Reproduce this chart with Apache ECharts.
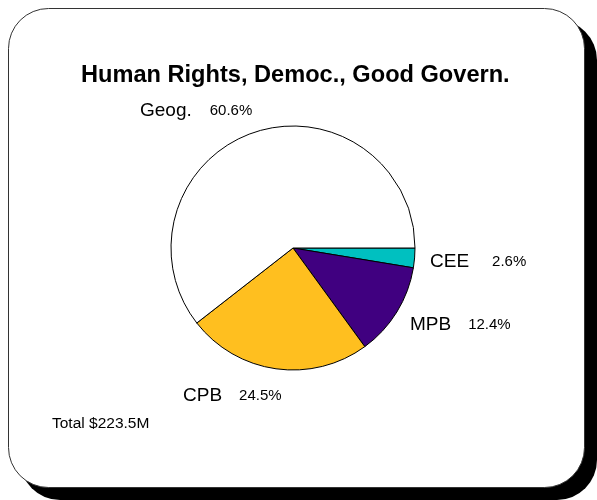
<!DOCTYPE html>
<html>
<head>
<meta charset="utf-8">
<script src="https://cdn.jsdelivr.net/npm/echarts@6/dist/echarts.min.js"></script>
<style>
  html, body { margin: 0; padding: 0; background: #ffffff; }
  #chart { width: 597px; height: 500px; }
</style>
</head>
<body>
<div id="chart"></div>
<script>
// Funding shares by program area
const titleText = 'Human Rights, Democ., Good Govern.';
const categories = ['CEE', 'MPB', 'CPB', 'Geog.'];
const shares = [2.6, 12.4, 24.5, 60.6];
const totalText = 'Total $223.5M';

const sliceColors = ['#00c0c0', '#400080', '#ffbf1f', '#ffffff'];
// label anchor (left edge, vertical middle) and name-to-percent gap for each slice
const labelAnchors = [[430, 262], [410, 325], [183, 396], [140, 111]];
const labelGaps = [23, 17, 17, 18];

const FONT = 'Liberation Sans, Arial, sans-serif';
const rich = {
  n: { fontFamily: FONT, fontSize: 19, color: '#000000', verticalAlign: 'bottom' },
  p: { fontFamily: FONT, fontSize: 15, color: '#000000', verticalAlign: 'bottom', padding: [0, 0, 2, 0] }
};
labelGaps.forEach((w, i) => { rich['g' + i] = { width: w }; });

const chart = echarts.init(document.getElementById('chart'), null, { renderer: 'canvas' });

chart.setOption({
  animation: false,
  backgroundColor: '#ffffff',
  graphic: [
    { type: 'rect', z: 0, shape: { x: 20, y: 20, width: 577, height: 480, r: 40 },
      style: { fill: '#000000' } },
    { type: 'rect', z: 1, shape: { x: 8.5, y: 8.5, width: 576, height: 479, r: 40 },
      style: { fill: '#ffffff', stroke: '#333333', lineWidth: 1 } },
    { type: 'text', z: 5, left: 52, top: 416,
      style: { text: totalText, fontFamily: FONT, fontSize: 15.5, fill: '#000000' } }
  ],
  title: {
    text: titleText,
    left: 76,
    top: 58,
    textStyle: { fontFamily: FONT, fontSize: 23.6, fontWeight: 'bold', color: '#000000' }
  },
  series: [{
    type: 'pie',
    z: 3,
    center: [293, 248],
    radius: [0, 122],
    startAngle: 0,
    clockwise: true,
    avoidLabelOverlap: false,
    data: categories.map((name, i) => ({
      name: name,
      value: shares[i],
      itemStyle: { color: sliceColors[i] }
    })),
    itemStyle: { borderColor: '#000000', borderWidth: 1 },
    emphasis: { disabled: true },
    labelLine: { show: false },
    label: {
      show: true,
      position: 'outside',
      formatter: p => '{n|' + p.name + '}{g' + p.dataIndex + '|}{p|' + p.value.toFixed(1) + '%}',
      rich: rich
    },
    labelLayout: params => ({
      x: labelAnchors[params.dataIndex][0],
      y: labelAnchors[params.dataIndex][1],
      align: 'left',
      verticalAlign: 'middle'
    })
  }]
});
</script>
</body>
</html>
